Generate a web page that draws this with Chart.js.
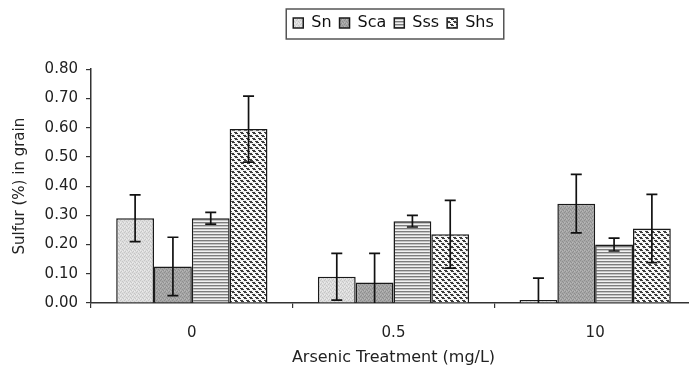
<!DOCTYPE html>
<html>
<head>
<meta charset="utf-8">
<script src="https://cdn.jsdelivr.net/npm/chart.js@4/dist/chart.umd.min.js"></script>
<style>
  body { margin: 0; background: #fff; overflow: hidden; }
  /* axis runs a little past the right edge, like the scan */
  #wrap { width: 696px; height: 377px; }
</style>
</head>
<body>
<div id="wrap"><canvas id="chart"></canvas></div>
<script>
// data
var treatments = ['0', '0.5', '10'];
var seriesNames = ['Sn', 'Sca', 'Sss', 'Shs'];
var snValues  = [0.29, 0.09, 0.01];
var scaValues = [0.125, 0.07, 0.34];
var sssValues = [0.29, 0.28, 0.20];
var shsValues = [0.595, 0.235, 0.255];
var snErr  = [0.08, 0.08, 0.075];
var scaErr = [0.10, 0.10, 0.10];
var sssErr = [0.02, 0.02, 0.022];
var shsErr = [0.113, 0.116, 0.117];
var yTicks = [0, 0.1, 0.2, 0.3, 0.4, 0.5, 0.6, 0.7, 0.8];

Chart.defaults.font.family = 'DejaVu Sans';
Chart.defaults.color = '#222';

// small tiles that mimic the printed fills
function makePattern(kind) {
    var c = document.createElement('canvas');
    var g = c.getContext('2d');
    if (kind == 'light' || kind == 'dark') {
        c.width = 4; c.height = 4;
        g.fillStyle = kind == 'light' ? '#dddddd' : '#a6a6a6';
        g.fillRect(0, 0, 4, 4);
        g.fillStyle = kind == 'light' ? '#c6c6c6' : '#8e8e8e';
        g.fillRect(0, 0, 1, 1); g.fillRect(2, 1, 1, 1); g.fillRect(1, 3, 1, 1); g.fillRect(3, 2, 1, 1);
        g.fillStyle = kind == 'light' ? '#ececec' : '#b8b8b8';
        g.fillRect(2, 3, 1, 1); g.fillRect(0, 2, 1, 1);
    } else if (kind == 'stripes') {
        c.width = 3; c.height = 3;
        g.fillStyle = '#f2f2f2'; g.fillRect(0, 0, 3, 3);
        g.fillStyle = '#7d7d7d'; g.fillRect(0, 0, 3, 1);
        g.fillStyle = '#c4c4c4'; g.fillRect(0, 1, 3, 1);
    } else {
        c.width = 6; c.height = 6;
        g.fillStyle = '#ffffff'; g.fillRect(0, 0, 6, 6);
        g.fillStyle = '#3a3a3a';
        for (var y = 0; y < 6; y++) {
            for (var k = 0; k < 3; k++) {
                g.fillRect((y + k) % 6, y, 1, 1);
            }
        }
        g.fillStyle = '#eeeeee'; g.fillRect(0, 2, 6, 1); g.fillRect(0, 5, 6, 1);
    }
    return g.createPattern(c, 'repeat');
}

var fills = [makePattern('light'), makePattern('dark'), makePattern('stripes'), makePattern('hatch')];
var values = [snValues, scaValues, sssValues, shsValues];
var errors = [snErr, scaErr, sssErr, shsErr];

var datasets = [];
for (var i = 0; i < seriesNames.length; i++) {
    datasets.push({
        label: seriesNames[i],
        data: values[i],
        errors: errors[i],
        backgroundColor: fills[i],
        borderColor: '#1a1a1a',
        borderWidth: 1.5,
        categoryPercentage: 0.75,
        barPercentage: 1.0
    });
}

// whiskers drawn through the y scale
var errorBars = {
    id: 'errorBars',
    afterDatasetsDraw: function(chart) {
        var ctx = chart.ctx;
        var ys = chart.scales.y;
        var a = chart.chartArea;
        ctx.save();
        ctx.beginPath();
        ctx.rect(a.left, a.top - 20, a.right - a.left, a.bottom - a.top + 20);
        ctx.clip();
        ctx.strokeStyle = '#111';
        ctx.lineWidth = 1.7;
        chart.data.datasets.forEach(function(ds, i) {
            var meta = chart.getDatasetMeta(i);
            meta.data.forEach(function(bar, j) {
                var top = ys.getPixelForValue(ds.data[j] + ds.errors[j]);
                var bot = ys.getPixelForValue(ds.data[j] - ds.errors[j]);
                var x = bar.x, w = 5.5;
                ctx.beginPath();
                ctx.moveTo(x, top); ctx.lineTo(x, bot);
                ctx.moveTo(x - w, top); ctx.lineTo(x + w, top);
                ctx.moveTo(x - w, bot); ctx.lineTo(x + w, bot);
                ctx.stroke();
            });
        });
        ctx.restore();
    }
};

// thin frame round the legend
var legendFrame = {
    id: 'legendFrame',
    afterDraw: function(chart) {
        var boxes = chart.legend.legendHitBoxes;
        if (!boxes || !boxes.length) return;
        var l = boxes[0].left, r = 0, t = boxes[0].top, b = 0;
        boxes.forEach(function(h) {
            l = Math.min(l, h.left);
            r = Math.max(r, h.left + h.width);
            b = Math.max(b, h.top + h.height);
        });
        var ctx = chart.ctx;
        ctx.save();
        ctx.strokeStyle = '#555';
        ctx.lineWidth = 1.5;
        ctx.strokeRect(l - 7, t - 6, r - l + 17, b - t + 14);
        ctx.restore();
    }
};

new Chart(document.getElementById('chart'), {
    type: 'bar',
    data: { labels: treatments, datasets: datasets },
    plugins: [errorBars, legendFrame],
    options: {
        responsive: true,
        maintainAspectRatio: false,
        animation: false,
        devicePixelRatio: 1,
        layout: { padding: { top: 7, left: 0, right: 0, bottom: 0 } },
        plugins: {
            legend: {
                position: 'top',
                fullSize: false,
                labels: {
                    boxWidth: 10,
                    boxHeight: 10,
                    padding: 8,
                    font: { size: 16 },
                    color: '#111'
                }
            },
            // empty title used only as a gap under the legend
            title: {
                display: true,
                text: '',
                weight: 0,
                font: { size: 1 },
                padding: { top: 0, bottom: 27 }
            },
            tooltip: { enabled: false }
        },
        scales: {
            x: {
                afterFit: function(scale) { scale.height = 74; },
                grid: { drawOnChartArea: false, tickLength: 5, color: '#333', lineWidth: 1.2 },
                border: { color: '#333', width: 1.5 },
                ticks: { font: { size: 15 }, padding: 16, color: '#222' },
                title: {
                    display: true,
                    text: 'Arsenic Treatment (mg/L)',
                    font: { size: 16 },
                    color: '#222',
                    padding: { top: 6, bottom: 10 }
                }
            },
            y: {
                min: 0,
                max: 0.8,
                afterBuildTicks: function(scale) {
                    scale.ticks = yTicks.map(function(v) { return { value: v }; });
                },
                afterFit: function(scale) { scale.width = 91; },
                grid: { drawOnChartArea: false, tickLength: 5, color: '#333', lineWidth: 1.2 },
                border: { color: '#333', width: 1.5 },
                ticks: {
                    font: { size: 15 },
                    padding: 8,
                    color: '#222',
                    callback: function(v) { return Number(v).toFixed(2); }
                },
                title: {
                    display: true,
                    text: 'Sulfur (%) in grain',
                    font: { size: 15 },
                    color: '#222',
                    padding: { top: 11, bottom: 0 }
                }
            }
        }
    }
});
</script>
</body>
</html>
